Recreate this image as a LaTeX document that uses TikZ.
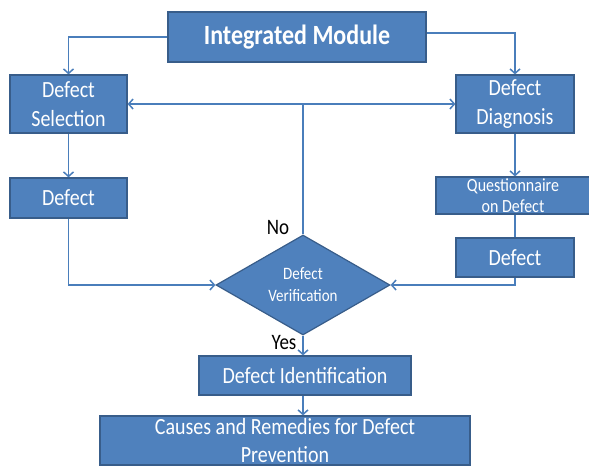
\documentclass[tikz,border=0pt]{standalone}
\usepackage{graphicx}
\usepackage{fontspec}
\setmainfont{Carlito}
\usetikzlibrary{shapes.geometric,arrows.meta,backgrounds}
\definecolor{boxblue}{HTML}{4F81BD}
\definecolor{boxedge}{HTML}{385D8A}
\definecolor{linkblue}{HTML}{4A7EBB}
\newcommand{\vs}[1]{\scalebox{1}[1.16]{#1}}
\tikzset{
  box/.style={rectangle, fill=boxblue, draw=boxedge, line width=1.2pt, text=white, align=center, inner sep=0pt},
  dec/.style={diamond, fill=boxblue, draw=boxedge, line width=1.2pt, text=white, align=center, inner sep=0pt, aspect=1.74},
  link/.style={draw=linkblue, line width=1.6pt, -{Straight Barb[length=4.5pt,width=10pt,line width=1.5pt]}},
  plain/.style={draw=linkblue, line width=1.6pt},
  lbl/.style={text=black, inner sep=0pt, font=\fontsize{19}{22}\selectfont}
}
\begin{document}
\begin{tikzpicture}[x=1pt,y=-1pt]
\useasboundingbox (0,0) rectangle (589,467);
\node[box, minimum width=258pt, minimum height=50pt, font=\bfseries\fontsize{24}{28}\selectfont] (im) at (297,37) {\vs{Integrated Module}};
\node[box, minimum width=117pt, minimum height=58pt, font=\fontsize{20}{29}\selectfont] (ds) at (68.5,104) {\vs{Defect}\\\vs{Selection}};
\node[box, minimum width=118pt, minimum height=58pt, font=\fontsize{20}{29}\selectfont] (dd) at (515,104) {\vs{Defect}\\\vs{Diagnosis}};
\node[box, minimum width=117pt, minimum height=40pt, font=\fontsize{20}{24}\selectfont] (dl) at (68.5,198) {\vs{Defect}};
\node[box, minimum width=154pt, minimum height=37pt, font=\fontsize{16}{21}\selectfont] (q) at (513,195.5) {\vs{Questionnaire}\\\vs{on Defect}};
\node[box, minimum width=118pt, minimum height=39pt, font=\fontsize{20}{24}\selectfont] (dr) at (515,257.5) {\vs{Defect}};
\node[dec, minimum width=174pt, minimum height=100pt, font=\fontsize{15}{22}\selectfont] (dv) at (303,285) {\vs{Defect}\\\vs{Verification}};
\node[box, minimum width=212pt, minimum height=39pt, font=\fontsize{20}{24}\selectfont] (di) at (305,375.5) {\vs{Defect Identification}};
\node[box, minimum width=370pt, minimum height=49pt, font=\fontsize{20}{28}\selectfont] (cr) at (285,440.5) {\vs{Causes and Remedies for Defect}\\\vs{Prevention}};
\node[lbl] (no) at (278,227) {\vs{No}};
\node[lbl] (yes) at (284,343) {\vs{Yes}};
\begin{pgfonlayer}{background}
\draw[link] (im.west) -| (ds.north);
\draw[link] ([yshift=4pt]im.east) -| (dd.north);
\draw[link] (ds) -- (dl);
\draw[link] (dd.south) -- (dd.south |- q.north);
\coordinate (j) at (dv.north |- ds.east);
\draw[plain] (dv.north) -- (j);
\draw[link] (j) -- (ds.east);
\draw[link] (j) -- (dd.west);
\draw[link] (dl.south) |- (dv.west);
\draw[link] (q.south -| dr.south) |- (dv.east);
\draw[link] (dv.south) -- (dv.south |- di.north);
\draw[link] (dv.south |- di.south) -- (dv.south |- cr.north);
\end{pgfonlayer}
\end{tikzpicture}
\end{document}
